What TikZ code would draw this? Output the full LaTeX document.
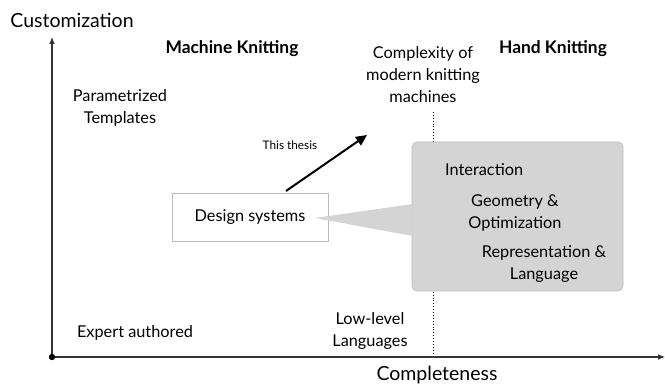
\documentclass[tikz,border=0pt]{standalone}
\usepackage{fontspec}
\setmainfont{Lato}
\usetikzlibrary{arrows.meta}
\definecolor{axisgray}{HTML}{333333}
\definecolor{boxgray}{HTML}{D4D4D4}
\definecolor{boxedge}{HTML}{BBBBBB}
\tikzset{
  lbl/.style={inner sep=0pt, align=center, font=\fontsize{16.3}{22}\selectfont},
  axlbl/.style={inner sep=0pt, font=\fontsize{19.5}{22}\selectfont},
  hdr/.style={inner sep=0pt, font=\bfseries\fontsize{17.4}{20}\selectfont},
  axisline/.style={draw=axisgray, line width=1.2pt},
  dotline/.style={draw=black, line width=0.9pt, dotted},
}
\begin{document}
\begin{tikzpicture}[x=1pt,y=-1pt]
\useasboundingbox (0,0) rectangle (665,387);
% axes
\coordinate (O) at (52,357);
\coordinate (ytop) at (52,37);
\coordinate (xend) at (665,357);
\draw[axisline, -{Latex[length=7pt,width=6pt]}] (O) -- (ytop);
\draw[axisline, -{Latex[length=7pt,width=6pt]}] (O) -- (xend);
\fill[black] (O) circle (3.2);
\node[axlbl] (ylab) at (72,20) {Customization};
\node[axlbl] (xlab) at (437,375) {Completeness};
% headers
\node[hdr] (mk) at (232,49) {Machine Knitting};
\node[hdr] (hk) at (553,49) {Hand Knitting};
% dotted divider
\coordinate (d1) at (433,112);
\coordinate (d2) at (433,357);
\draw[dotline] (d1) -- (d2);
% labels
\node[lbl] (cplx) at (423,75) {Complexity of\\modern knitting\\machines};
\node[lbl] (param) at (120,108) {Parametrized\\Templates};
\node[lbl] (expert) at (135,333) {Expert authored};
\node[lbl] (low) at (370,331) {Low-level\\Languages};
% gray box
\node[draw=boxedge, fill=boxgray, rounded corners=5pt, minimum width=211pt, minimum height=149pt, inner sep=0pt, line width=0.6pt] (gbox) at (517.5,216.5) {};
\node[lbl, anchor=west] (inter) at (445,170) {Interaction};
\node[lbl] (geo) at (515,212.5) {Geometry \&\\Optimization};
\node[lbl] (rep) at (544,264.5) {Representation \&\\Language};
% design systems box
\node[draw=boxedge, fill=white, line width=0.6pt, minimum width=156pt, minimum height=48pt, inner sep=0pt] (ds) at (250,217) {};
\node[lbl] (dst) at (250,217) {Design systems};
% callout triangle
\coordinate (tip) at (315,218);
\coordinate (b1) at (412.5,204);
\coordinate (b2) at (412.5,236);
\fill[boxgray] (tip) -- (b1) -- (b2) -- cycle;
% thesis arrow
\coordinate (a1) at (286,191);
\coordinate (a2) at (367,135);
\draw[line width=2pt, -{Triangle[length=11pt,width=10pt]}] (a1) -- (a2);
\node[inner sep=0pt, font=\fontsize{11.8}{14}\selectfont] (thesis) at (290,145) {This thesis};
\end{tikzpicture}
\end{document}
